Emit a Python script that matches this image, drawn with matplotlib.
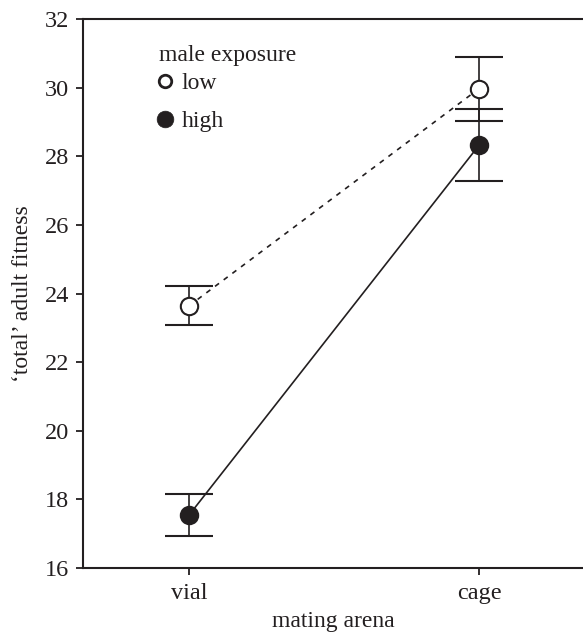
import matplotlib
import matplotlib.pyplot as plt
from matplotlib.lines import Line2D

# data
arenas = ['vial', 'cage']
low_mean = [23.64, 29.97]
low_err = [0.57, 0.93]
high_mean = [17.54, 28.32]
high_err = [0.62, 1.05]

ink = '#231f20'


def main():

    matplotlib.rc('font', family = 'Liberation Serif', size = 17)

    fig = plt.figure(figsize = [5.83, 6.36], dpi = 100)
    ax = fig.add_axes([83 / 583, 68 / 636, 500 / 583, 549 / 636])

    x = list(range(len(arenas)))

    eb = dict(capsize = 17, elinewidth = 1.2, capthick = 1.5, ecolor = ink)

    ax.errorbar(x, low_mean, yerr = low_err, fmt = 'none', zorder = 2, **eb)
    ax.errorbar(x, high_mean, yerr = high_err, fmt = 'none', zorder = 2, **eb)

    ax.plot(x, low_mean, color = ink, lw = 1.2, dashes = (3, 3.5), zorder = 3)
    ax.plot(x, high_mean, color = ink, lw = 1.2, zorder = 3)

    ax.plot(x, low_mean, 'o', ms = 12.5, mfc = 'white', mec = ink, mew = 1.5,
            ls = 'none', zorder = 4)
    ax.plot(x, high_mean, 'o', ms = 12.5, mfc = ink, mec = ink, mew = 1.5,
            ls = 'none', zorder = 4)

    ax.set_xlim(-106 / 290, 394 / 290)
    ax.set_ylim(16, 32)
    ax.set_xticks(x)
    ax.set_xticklabels(arenas)
    ax.set_yticks(range(16, 33, 2))
    ax.tick_params(labelsize = 17.5, direction = 'out', length = 5, width = 1.3,
                   colors = ink)
    ax.tick_params(axis = 'x', pad = 6)
    ax.tick_params(axis = 'y', pad = 5)

    ax.spines['right'].set_visible(False)
    for side in ['left', 'bottom', 'top']:
        ax.spines[side].set_linewidth(1.5)
        ax.spines[side].set_color(ink)

    ax.set_xlabel('mating arena', fontsize = 17, color = ink, labelpad = 5)
    ax.set_ylabel('\u2018total\u2019 adult fitness', fontsize = 17,
                  color = ink, labelpad = 8)

    handles = [
        Line2D([], [], marker = 'o', ls = 'none', ms = 9, mfc = 'white',
               mec = ink, mew = 2),
        Line2D([], [], marker = 'o', ls = 'none', ms = 12, mfc = ink,
               mec = ink, mew = 0.5),
    ]
    leg = ax.legend(handles, ['low', 'high'], title = 'male exposure',
                    loc = 'upper left', bbox_to_anchor = (0.152, 0.952),
                    frameon = False, fontsize = 17, title_fontsize = 17,
                    handlelength = 0.5, handletextpad = 0.47,
                    labelspacing = 0.7, borderpad = 0, borderaxespad = 0,
                    alignment = 'left')
    # tighter gap between title and first entry
    leg._legend_box.sep = 4.5
    for t in leg.get_texts():
        t.set_color(ink)
    leg.get_title().set_color(ink)

    fig.savefig('out.png', dpi = 100)


if __name__ == "__main__":
    main()
